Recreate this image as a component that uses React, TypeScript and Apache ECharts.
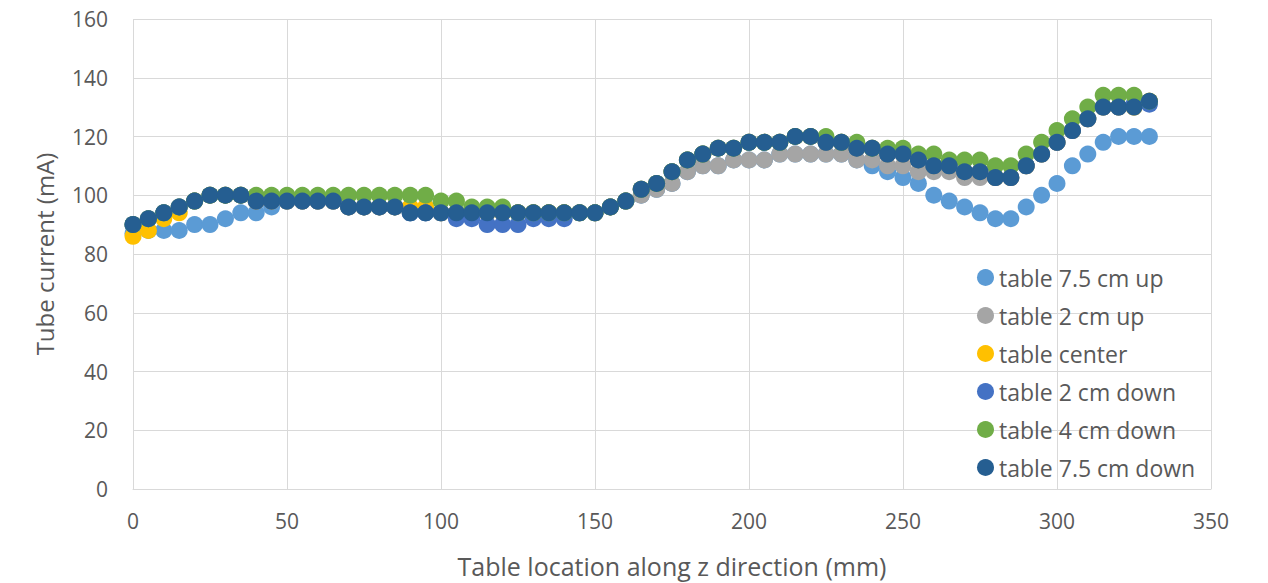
import React, { useEffect, useRef } from "react";
import * as echarts from "echarts";

const xValues: number[] = [];
for (let i = 0; i <= 330; i += 5) xValues.push(i);

const seriesNames = [
  "table 7.5 cm up",
  "table 2 cm up",
  "table center",
  "table 2 cm down",
  "table 4 cm down",
  "table 7.5 cm down",
];
const colors = ["#5B9BD5", "#A5A5A5", "#FFC000", "#4472C4", "#70AD47", "#255E91"];

// x = 0..330 step 5 (67 points each)
const up75 = [
  87, 88, 88, 88, 90, 90, 92, 94, 94, 96, 98, 98, 98, 98, 96, 96, 96, 96, 94, 94,
  94, 94, 94, 94, 94, 94, 94, 94, 94, 94, 94, 96, 98, 100, 102, 104, 108, 110, 110, 112,
  112, 112, 114, 114, 114, 114, 114, 112, 110, 108, 106, 104, 100, 98, 96, 94, 92, 92, 96, 100,
  104, 110, 114, 118, 120, 120, 120,
];
const up2 = [
  90, 92, 94, 96, 98, 100, 100, 100, 98, 98, 98, 98, 98, 98, 96, 96, 96, 96, 94, 94,
  94, 94, 94, 94, 94, 94, 94, 94, 94, 94, 94, 96, 98, 100, 102, 104, 108, 110, 110, 112,
  112, 112, 114, 114, 114, 114, 114, 112, 112, 110, 110, 108, 108, 108, 106, 106, 106, 106, 110, 114,
  118, 122, 126, 130, 130, 130, 132,
];
const center = [
  86, 88, 92, 94, 98, 100, 100, 100, 98, 98, 98, 98, 98, 98, 96, 96, 96, 96, 96, 96,
  94, 94, 94, 94, 94, 94, 94, 94, 94, 94, 94, 96, 98, 102, 104, 108, 112, 114, 116, 116,
  118, 118, 118, 120, 120, 118, 118, 116, 116, 114, 114, 112, 110, 110, 108, 108, 106, 106, 110, 114,
  118, 122, 126, 130, 130, 130, 132,
];
const down2 = [
  90, 92, 94, 96, 98, 100, 100, 100, 98, 98, 98, 98, 98, 98, 96, 96, 96, 96, 94, 94,
  94, 92, 92, 90, 90, 90, 92, 92, 92, 94, 94, 96, 98, 102, 104, 108, 112, 114, 116, 116,
  118, 118, 118, 120, 120, 118, 118, 116, 116, 114, 114, 112, 110, 110, 108, 108, 106, 106, 110, 114,
  118, 122, 126, 130, 130, 131, 131,
];
const down4 = [
  90, 92, 94, 96, 98, 100, 100, 100, 100, 100, 100, 100, 100, 100, 100, 100, 100, 100, 100, 100,
  98, 98, 96, 96, 96, 94, 94, 94, 94, 94, 94, 96, 98, 102, 104, 108, 112, 114, 116, 116,
  118, 118, 118, 120, 120, 120, 118, 118, 116, 116, 116, 114, 114, 112, 112, 112, 110, 110, 114, 118,
  122, 126, 130, 134, 134, 134, 132,
];
const down75 = [
  90, 92, 94, 96, 98, 100, 100, 100, 98, 98, 98, 98, 98, 98, 96, 96, 96, 96, 94, 94,
  94, 94, 94, 94, 94, 94, 94, 94, 94, 94, 94, 96, 98, 102, 104, 108, 112, 114, 116, 116,
  118, 118, 118, 120, 120, 118, 118, 116, 116, 114, 114, 112, 110, 110, 108, 108, 106, 106, 110, 114,
  118, 122, 126, 130, 130, 130, 132,
];
const seriesValues = [up75, up2, center, down2, down4, down75];

const xTicks = [0, 50, 100, 150, 200, 250, 300, 350];
const yTicks = [0, 20, 40, 60, 80, 100, 120, 140, 160];

const FONT = "Open Sans";

export default function App() {
  const ref = useRef<HTMLDivElement>(null);
  useEffect(() => {
    if (!ref.current) return;
    const chart = echarts.init(ref.current, null, { renderer: "svg" });
    chart.setOption({
      animation: false,
      backgroundColor: "#ffffff",
      textStyle: { fontFamily: FONT },
      grid: { left: 133, right: 57, top: 19, bottom: 94, containLabel: false },
      legend: {
        orient: "vertical",
        left: 972,
        top: 261,
        itemGap: 15,
        itemWidth: 17,
        itemHeight: 17,
        icon: "circle",
        textStyle: { fontFamily: FONT, fontSize: 23, color: "#595959" },
        data: seriesNames,
      },
      xAxis: {
        type: "value",
        min: xTicks[0],
        max: xTicks[xTicks.length - 1],
        interval: 50,
        name: "Table location along z direction (mm)",
        nameLocation: "middle",
        nameGap: 64,
        nameTextStyle: { fontFamily: FONT, fontSize: 25, color: "#595959" },
        axisLine: { show: true, lineStyle: { color: "#D9D9D9", width: 1 } },
        axisTick: { show: false },
        axisLabel: { fontFamily: FONT, fontSize: 21, color: "#595959", margin: 21 },
        splitLine: { show: true, lineStyle: { color: "#D9D9D9", width: 1 } },
      },
      yAxis: {
        type: "value",
        min: yTicks[0],
        max: yTicks[yTicks.length - 1],
        interval: 20,
        name: "Tube current (mA)",
        nameLocation: "middle",
        nameGap: 77,
        nameTextStyle: { fontFamily: FONT, fontSize: 24, color: "#595959" },
        axisLine: { show: false },
        axisTick: { show: false },
        axisLabel: { fontFamily: FONT, fontSize: 21, color: "#595959", margin: 25 },
        splitLine: { show: true, lineStyle: { color: "#D9D9D9", width: 1 } },
      },
      series: seriesNames.map((name, i) => ({
        name,
        type: "scatter",
        symbol: "circle",
        symbolSize: 17,
        itemStyle: { color: colors[i], opacity: 1 },
        data: xValues.map((x, j) => [x, seriesValues[i][j]]),
      })),
    });
    return () => chart.dispose();
  }, []);
  return <div ref={ref} style={{ width: 1268, height: 583, position: "absolute", left: 0, top: 0 }} />;
}
